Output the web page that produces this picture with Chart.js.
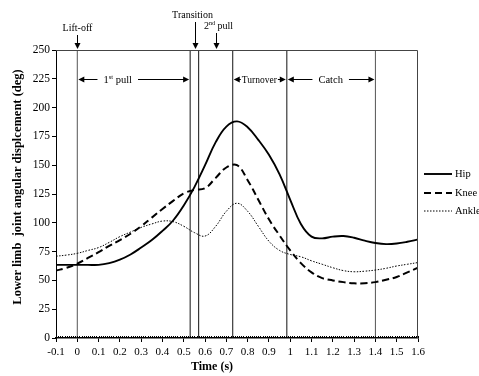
<!DOCTYPE html>
<html>
<head>
<meta charset="utf-8">
<script src="https://cdn.jsdelivr.net/npm/chart.js@4/dist/chart.umd.min.js"></script>
<style>
  html, body { margin: 0; padding: 0; background: #fff; }
  canvas { display: block; }
</style>
</head>
<body>
<canvas id="jointChart" width="479" height="376"></canvas>
<script>
// time (s)
var times = [-0.1, -0.05, 0, 0.05, 0.1, 0.15, 0.2, 0.25, 0.3, 0.35, 0.4, 0.45, 0.5, 0.55, 0.6, 0.65, 0.7, 0.75,
             0.8, 0.85, 0.9, 0.95, 1.0, 1.05, 1.1, 1.15, 1.2, 1.25, 1.3, 1.35, 1.4, 1.45, 1.5, 1.55, 1.6];
// joint angles (deg)
var hip   = [63.5, 63.5, 63.5, 63.5, 63.5, 65, 68, 72.5, 78.5, 85, 93, 102, 115, 131, 150, 170, 183.5, 188,
             183, 172, 159, 142, 120, 99, 88, 86.5, 88, 88.5, 87, 84.5, 82.5, 81.5, 82, 83.5, 85.5];
var knee  = [58.5, 61, 64.5, 69.5, 74.5, 80, 85, 90.5, 97, 104.5, 112, 119, 125.5, 128.5, 130, 139, 148, 150,
             137, 120, 103, 89, 76, 65, 57, 52, 50, 48.5, 47.5, 47.5, 48.5, 50.5, 53, 57, 61];
var ankle = [71, 72, 73.5, 76, 78.5, 83, 88, 92, 96, 99, 101.5, 101, 97, 91.5, 88.5, 97, 110, 117,
             110, 97, 84, 76, 72.5, 70.5, 67, 64, 61, 58.5, 57.5, 58, 59, 60.5, 62.5, 64, 65.5];

// phase boundaries (s)
var phaseTimes = [0, 0.53, 0.57, 0.73, 0.984, 1.4];
// phase labels with arrows between boundaries
var phaseNames = [['1', 'st', ' pull'], ['Turnover'], ['Catch']];
var phaseFrom = [0, 0.73, 0.984];
var phaseTo = [0.53, 0.984, 1.4];
var phaseTextAt = [0.19, 0.855, 1.19];
// event labels above the plot
var eventNames = [['Lift-off'], ['Transition'], ['2', 'nd', ' pull']];
var eventTimes = [0, 0.554, 0.653];

var seriesNames = ['Hip', 'Knee', 'Ankle'];
var serif = '"Liberation Serif", "DejaVu Serif", serif';

function toPoints(vals) {
    return times.map(function (t, i) { return {x: t, y: vals[i]}; });
}

var datasets = [
    {label: 'Hip', data: toPoints(hip), borderColor: '#000', borderWidth: 1.9, borderDash: []},
    {label: 'Knee', data: toPoints(knee), borderColor: '#000', borderWidth: 2, borderDash: [7, 4]},
    {label: 'Ankle', data: toPoints(ankle), borderColor: '#000', borderWidth: 1, borderDash: [1.5, 1.5]}
];
datasets.forEach(function (d) {
    d.pointRadius = 0;
    d.fill = false;
    d.tension = 0.4;
});
// phase boundary lines
phaseTimes.forEach(function (t, i) {
    datasets.push({
        label: 'phase' + i,
        data: [{x: t, y: 0}, {x: t, y: 250}],
        borderColor: (i == 0 || i == 5) ? '#555' : '#111',
        borderWidth: 1,
        pointRadius: 0
    });
});

// text with superscript part
function drawParts(ctx, parts, cx, y, size) {
    var widths = parts.map(function (p, i) {
        ctx.font = (i == 1 ? size * 0.62 : size) + 'px ' + serif;
        return ctx.measureText(p).width;
    });
    var total = widths.reduce(function (a, b) { return a + b; }, 0);
    var x = cx - total / 2;
    ctx.textAlign = 'left';
    ctx.textBaseline = 'alphabetic';
    parts.forEach(function (p, i) {
        ctx.font = (i == 1 ? size * 0.62 : size) + 'px ' + serif;
        ctx.fillText(p, x, i == 1 ? y - size * 0.38 : y);
        x += widths[i];
    });
    return {left: cx - total / 2, right: cx + total / 2};
}

function arrowHead(ctx, x, y, dir) {
    ctx.beginPath();
    if (dir == 'left') { ctx.moveTo(x, y); ctx.lineTo(x + 6, y - 3); ctx.lineTo(x + 6, y + 3); }
    if (dir == 'right') { ctx.moveTo(x, y); ctx.lineTo(x - 6, y - 3); ctx.lineTo(x - 6, y + 3); }
    if (dir == 'down') { ctx.moveTo(x, y); ctx.lineTo(x - 3, y - 6); ctx.lineTo(x + 3, y - 6); }
    ctx.closePath();
    ctx.fill();
}

var decorations = {
    id: 'decorations',
    afterDraw: function (chart) {
        var ctx = chart.ctx;
        var xs = chart.scales.x, ys = chart.scales.y;
        var area = chart.chartArea;
        ctx.save();
        ctx.fillStyle = '#000';
        ctx.strokeStyle = '#000';

        // top and right border
        ctx.lineWidth = 1;
        ctx.strokeStyle = '#444';
        ctx.beginPath();
        ctx.moveTo(area.left, area.top + 0.5);
        ctx.lineTo(area.right - 0.5, area.top + 0.5);
        ctx.lineTo(area.right - 0.5, area.bottom);
        ctx.stroke();

        // minor ticks on time axis
        ctx.strokeStyle = '#000';
        ctx.beginPath();
        for (var k = -10; k <= 160; k++) {
            var px = Math.round(xs.getPixelForValue(k / 100)) + 0.5;
            ctx.moveTo(px, area.bottom);
            ctx.lineTo(px, area.bottom - 2);
        }
        ctx.stroke();

        // event arrows above the plot
        var eventY = [27, 14, 25];
        eventTimes.forEach(function (t, i) {
            var px = Math.round(xs.getPixelForValue(t)) + 0.5;
            var tx = i == 1 ? px - 3 : px + 2;
            if (i == 0) tx = px;
            drawParts(ctx, eventNames[i], tx, eventY[i] + 4, 10);
            ctx.beginPath();
            ctx.moveTo(px, eventY[i] + 8);
            ctx.lineTo(px, area.top - 2);
            ctx.stroke();
            arrowHead(ctx, px, area.top - 1, 'down');
        });

        // phase arrows
        var py = Math.round(ys.getPixelForValue(225)) + 0.5;
        phaseNames.forEach(function (parts, i) {
            var x1 = xs.getPixelForValue(phaseFrom[i]) + 1;
            var x2 = xs.getPixelForValue(phaseTo[i]) - 1;
            var cx = xs.getPixelForValue(phaseTextAt[i]);
            var box = drawParts(ctx, parts, cx, py + 3.5, i == 1 ? 9.5 : 10.5);
            var gap = i == 1 ? 1 : 6;
            ctx.beginPath();
            ctx.moveTo(x1 + 3, py); ctx.lineTo(box.left - gap, py);
            ctx.moveTo(box.right + gap, py); ctx.lineTo(x2 - 3, py);
            ctx.stroke();
            arrowHead(ctx, x1, py, 'left');
            arrowHead(ctx, x2, py, 'right');
        });

        // legend
        var legY = [174, 193, 211];
        for (var s = 0; s < 3; s++) {
            var d = chart.data.datasets[s];
            ctx.lineWidth = d.borderWidth;
            ctx.setLineDash(d.borderDash);
            ctx.beginPath();
            ctx.moveTo(424, legY[s]);
            ctx.lineTo(452, legY[s]);
            ctx.stroke();
            ctx.setLineDash([]);
            ctx.font = '10.5px ' + serif;
            ctx.textAlign = 'left';
            ctx.textBaseline = 'middle';
            ctx.fillText(seriesNames[s], 455, legY[s] + 0.5);
        }

        // axis titles
        ctx.font = 'bold 12px ' + serif;
        ctx.textAlign = 'center';
        ctx.textBaseline = 'middle';
        ctx.fillText('Time (s)', 212, 367);
        ctx.translate(18, 187);
        ctx.rotate(-Math.PI / 2);
        ctx.font = 'bold 12.5px ' + serif;
        ctx.fillText('Lower limb  joint angular displcement (deg)', 0, 0);
        ctx.restore();
    }
};

new Chart(document.getElementById('jointChart'), {
    type: 'line',
    data: {datasets: datasets},
    options: {
        responsive: false,
        animation: false,
        devicePixelRatio: 1,
        layout: {padding: {top: 50, right: 61, left: 0, bottom: 0}},
        plugins: {legend: {display: false}, tooltip: {enabled: false}},
        scales: {
            x: {
                type: 'linear',
                min: -0.1,
                max: 1.6,
                border: {color: '#000', width: 1.5},
                grid: {drawOnChartArea: false, tickLength: 4, color: '#000'},
                ticks: {
                    stepSize: 0.1,
                    autoSkip: false,
                    maxRotation: 0,
                    padding: 4,
                    color: '#000',
                    font: {family: serif, size: 11},
                    callback: function (v) { return String(Math.round(v * 10) / 10); }
                },
                afterFit: function (s) { s.height = 38; }
            },
            y: {
                min: 0,
                max: 250,
                border: {color: '#000', width: 1},
                grid: {drawOnChartArea: false, tickLength: 4, color: '#000'},
                ticks: {stepSize: 25, padding: 2, color: '#000', font: {family: serif, size: 11.5}},
                afterFit: function (s) { s.width = 56; }
            }
        }
    },
    plugins: [decorations]
});
</script>
</body>
</html>
